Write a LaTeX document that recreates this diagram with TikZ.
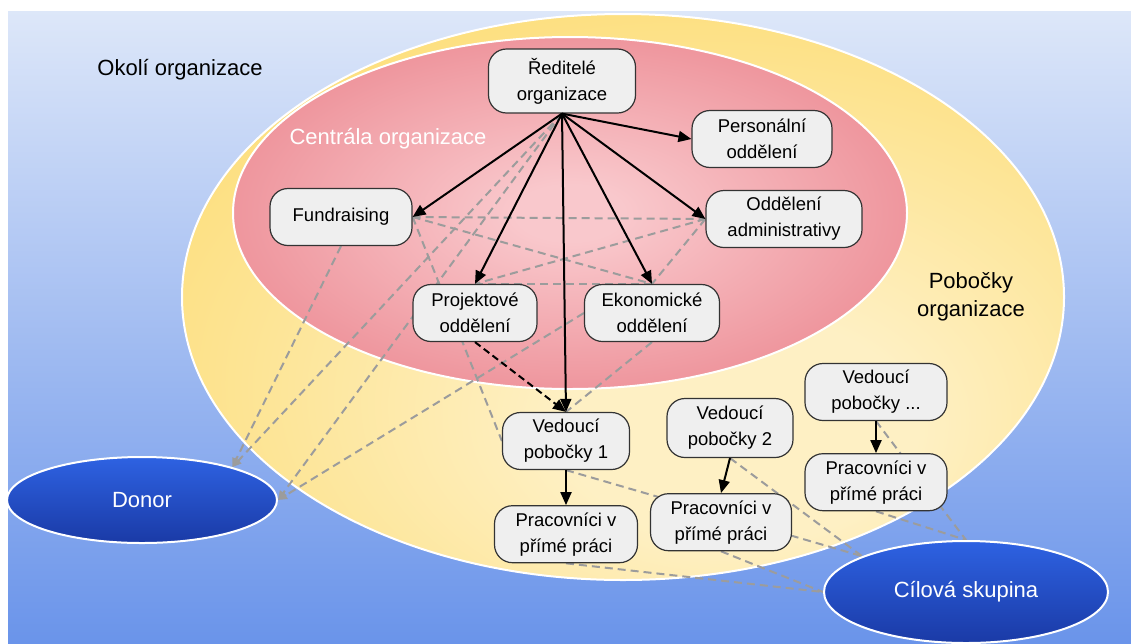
\documentclass[tikz,border=0pt]{standalone}
\usepackage{fontspec}
\setmainfont{Liberation Sans}
\usepackage{tikz}
\usetikzlibrary{shapes.geometric, arrows.meta, positioning, backgrounds}

\definecolor{skytop}{HTML}{DDE7F9}
\definecolor{skybot}{HTML}{6A94EA}
\definecolor{yellowin}{HTML}{FEF0C4}
\definecolor{yellowout}{HTML}{FCD452}
\definecolor{redin}{HTML}{F9C8CC}
\definecolor{redout}{HTML}{E4646F}
\definecolor{bluetop}{HTML}{2E62E2}
\definecolor{bluebot}{HTML}{1A3AA6}
\definecolor{boxfill}{HTML}{EFEFEF}
\definecolor{linkgray}{HTML}{9C9C9C}

\pgfdeclareradialshading{yellowglow}{\pgfpoint{8bp}{-14bp}}{color(0bp)=(yellowin); color(10bp)=(yellowin); color(48bp)=(yellowout); color(60bp)=(yellowout)}
\pgfdeclareradialshading{redglow}{\pgfpoint{0bp}{0bp}}{color(0bp)=(redin); color(4bp)=(redin); color(46bp)=(redout); color(60bp)=(redout)}

\begin{document}
\begin{tikzpicture}[
    x=1pt, y=-1pt,
    box/.style={rectangle, draw=black!80, line width=1.2pt, rounded corners=18pt,
                fill=boxfill, align=center, minimum height=57pt, inner xsep=8pt,
                font=\fontsize{18.5}{26}\selectfont},
    party/.style={ellipse, draw=white, line width=2pt, inner sep=0pt,
                  top color=bluetop, bottom color=bluebot, text=white,
                  font=\fontsize{22}{26}\selectfont},
    zonelabel/.style={align=center, font=\fontsize{22}{28}\selectfont},
    arrow/.style={-{Triangle[length=13pt, width=11pt]}, line width=2pt},
    dasharrow/.style={arrow, dash pattern=on 7pt off 4pt},
    dashlink/.style={draw=linkgray, line width=2pt, dash pattern=on 8pt off 5pt},
    dashlinkarrow/.style={dashlink, -{Triangle[length=9pt, width=8pt]}},
    node distance=35pt
]

\useasboundingbox (0,0) rectangle (1131,643);

% zones
\begin{scope}[on background layer]
\fill[white] (0,0) rectangle (1131,643);
\fill[top color=skytop, bottom color=skybot] (8,11) rectangle (1131,643);
\path[shading=yellowglow, draw=white, line width=2pt] (623,297) ellipse [x radius=441, y radius=283];
\path[shading=redglow, draw=white, line width=2pt] (570,213) ellipse [x radius=337, y radius=176];
\end{scope}

\node[zonelabel] (outside) at (180,70) {Okolí organizace};
\node[zonelabel, text=white] (centre) at (388,139) {Centrála organizace};
\node[zonelabel] (branches) at (971,297) {Pobočky\\organizace};

% headquarters
\node[box, minimum width=147pt, minimum height=64pt] (dir) at (562,81) {Ředitelé\\organizace};
\node[box, minimum width=140pt] (pers) at (762,139) {Personální\\oddělení};
\node[box, minimum width=142pt] (fund) at (341,217) {Fundraising};
\node[box, minimum width=156pt] (admin) at (784,219) {Oddělení\\administrativy};
\node[box, minimum width=124pt] (proj) at (475,313) {Projektové\\oddělení};
\node[box, minimum width=135pt] (econ) at (652,313) {Ekonomické\\oddělení};

% branches
\node[box, minimum width=127pt] (lead1) at (566,441) {Vedoucí\\pobočky 1};
\node[box, minimum width=143pt, below=of lead1] (staff1) {Pracovníci v\\přímé práci};
\node[box, minimum width=126pt, minimum height=59pt] (lead2) at (730,428) {Vedoucí\\pobočky 2};
\node[box, minimum width=141pt, below=of lead2, xshift=-9pt] (staff2) {Pracovníci v\\přímé práci};
\node[box, minimum width=142pt] (leadn) at (876,392) {Vedoucí\\pobočky ...};
\node[box, minimum width=142pt, below=32pt of leadn] (staffn) {Pracovníci v\\přímé práci};

% outside
\node[party, minimum width=270pt, minimum height=86pt] (donor) at (142,500) {Donor};
\node[party, minimum width=284pt, minimum height=102pt] (target) at (966,592) {Cílová skupina};

\draw[arrow] (dir.south) -- (pers.west);
\draw[arrow] (dir.south) -- (fund.east);
\draw[arrow] (dir.south) -- (proj.north);
\draw[arrow] (dir.south) -- (lead1.north);
\draw[arrow] (dir.south) -- (econ.north);
\draw[arrow] (dir.south) -- (admin.west);
\draw[dasharrow] (proj.south) -- (lead1.north);
\draw[arrow] (lead1) -- (staff1);
\draw[arrow] (lead2.south) -- (staff2.north);
\draw[arrow] (leadn) -- (staffn);

% cooperation
\begin{scope}[on background layer]
\draw[dashlink] (fund.east) -- (admin.west);
\draw[dashlink] (fund.east) -- (econ.north);
\draw[dashlink] (fund.east) -- (lead1.west);
\draw[dashlink] (admin.west) -- (proj.north);
\draw[dashlink] (admin.west) -- (econ.north);
\draw[dashlink] (proj.north) -- (econ.north);
\draw[dashlink] (econ.south) -- (lead1.north);
\draw[dashlinkarrow] (fund.south) -- (donor.20);
\draw[dashlinkarrow] (dir.south) -- (donor.20);
\draw[dashlinkarrow] (dir.south) -- (donor.east);
\draw[dashlinkarrow] (econ.west) -- (donor.east);
\draw[dashlink] (lead1.south) -- (target.161);
\draw[dashlink] (staff1.south) -- (target.west);
\draw[dashlink] (lead2.south) -- (target.161);
\draw[dashlink] (staff2.south) -- (target.west);
\draw[dashlink] (leadn.south) -- (target.north);
\draw[dashlink] (staffn.south) -- (target.north);
\end{scope}

\end{tikzpicture}
\end{document}
